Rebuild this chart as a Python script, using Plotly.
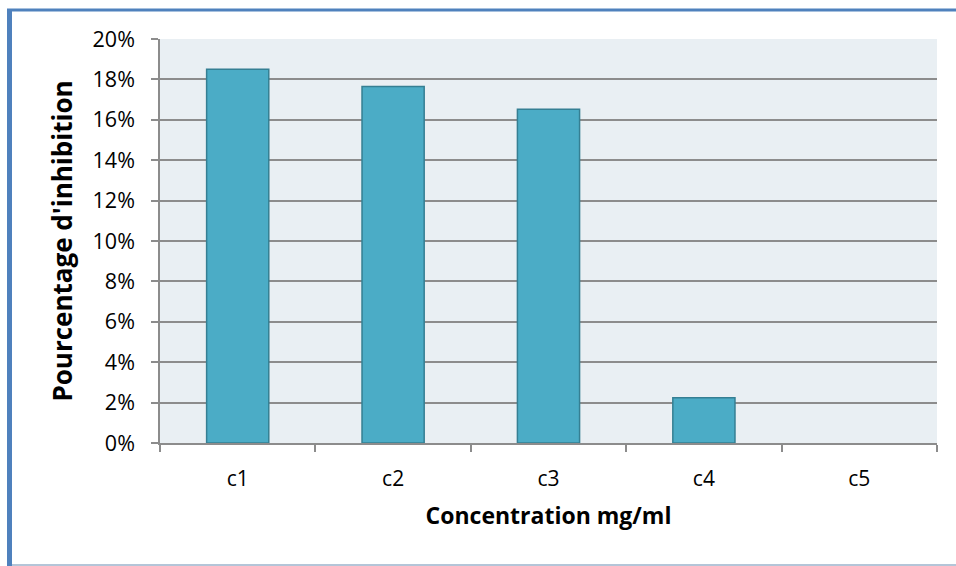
import plotly.graph_objects as go

# Inhibition percentage for each concentration
categories = ["c1", "c2", "c3", "c4", "c5"]
inhibition = [18.5, 17.65, 16.52, 2.24, 0.0]
y_ticks = [0, 2, 4, 6, 8, 10, 12, 14, 16, 18, 20]

W, H = 956, 566
L, R, T, B = 160, 19, 39, 123

# no outline on empty bars
outline_widths = [1.5 if v > 0 else 0 for v in inhibition]

fig = go.Figure()
fig.add_trace(go.Bar(
    x=categories,
    y=inhibition,
    width=0.4,
    marker=dict(color="#4BACC6", line=dict(color="#357F93", width=outline_widths)),
))

def px_x(v):
    return (v - L) / (W - L - R)

def px_y(v):
    return (H - B - v) / (H - T - B)

frame_blue = "#4F81BD"
shapes = [
    # top frame line
    dict(type="line", xref="paper", yref="paper",
         x0=px_x(7), x1=px_x(956), y0=px_y(10), y1=px_y(10),
         line=dict(color=frame_blue, width=3)),
    # left frame line
    dict(type="line", xref="paper", yref="paper",
         x0=px_x(9.5), x1=px_x(9.5), y0=px_y(9), y1=px_y(566),
         line=dict(color=frame_blue, width=5)),
    # bottom frame line
    dict(type="line", xref="paper", yref="paper",
         x0=px_x(12), x1=px_x(956), y0=px_y(565), y1=px_y(565),
         line=dict(color="#B4C5D8", width=2)),
]

font_family = "Open Sans, Liberation Sans, sans-serif"

fig.update_layout(
    width=W, height=H,
    margin=dict(l=L, r=R, t=T, b=B, pad=0),
    paper_bgcolor="white",
    plot_bgcolor="#E9EFF3",
    showlegend=False,
    bargap=0.6,
    shapes=shapes,
    font=dict(family=font_family, color="#000000", size=18),
    xaxis=dict(
        showline=True, linecolor="#8C8C8C", linewidth=1.5,
        ticks="outside", tickson="boundaries", ticklen=7,
        tickcolor="#8C8C8C", tickwidth=1.5,
        ticklabelstandoff=16,
        tickfont=dict(size=21),
        showgrid=False,
        title=dict(text="<b>Concentration mg/ml</b>", font=dict(size=23), standoff=17),
    ),
    yaxis=dict(
        range=[0, 20],
        tickvals=y_ticks,
        ticktext=[f"{v}%" for v in y_ticks],
        showline=True, linecolor="#8C8C8C", linewidth=1.5,
        ticks="outside", ticklen=7, tickcolor="#8C8C8C", tickwidth=1.5,
        ticklabelstandoff=12,
        tickfont=dict(size=21.5),
        showgrid=True, gridcolor="#8C8C8C", gridwidth=1.5,
        zeroline=False,
        title=dict(text="<b>Pourcentage d'inhibition</b>", font=dict(size=26), standoff=12),
    ),
)

fig.write_html("out.html")
